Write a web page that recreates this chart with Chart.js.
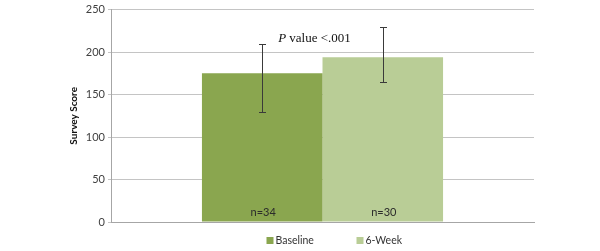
<!DOCTYPE html>
<html>
<head>
<meta charset="utf-8">
<script src="https://cdn.jsdelivr.net/npm/chart.js@4.4.1/dist/chart.umd.min.js"></script>
<style>
  html, body { margin: 0; padding: 0; background: #fff; }
  #wrap { width: 600px; height: 251px; }
</style>
</head>
<body>
<div id="wrap"><canvas id="surveyChart" width="600" height="251"></canvas></div>
<script>
// === DATA ===
const categories = ["Survey"];
const seriesNames = ["Baseline", "6-Week"];
const means = [175, 194];
const errLow = [129, 165];
const errHigh = [210, 229];
const sampleLabels = ["n=34", "n=30"];
const yTicks = [0, 50, 100, 150, 200, 250];
const pValueY = 216;

const barColors = ["#8aa64f", "#b9cd96"];
const sansFont = "Lato, 'DejaVu Sans', sans-serif";

// error bars, n labels, p value note and the legend
const extrasPlugin = {
    id: "extras",
    afterDatasetsDraw(chart) {
        const ctx = chart.ctx;
        const y = chart.scales.y;
        ctx.save();
        seriesNames.forEach((name, i) => {
            const bar = chart.getDatasetMeta(i).data[0];
            const x = Math.round(bar.x) + 0.5;
            const top = Math.round(y.getPixelForValue(errHigh[i])) + 0.5;
            const bottom = Math.round(y.getPixelForValue(errLow[i])) + 0.5;
            ctx.strokeStyle = "#3a3a3a";
            ctx.lineWidth = 1;
            ctx.beginPath();
            ctx.moveTo(x, top);
            ctx.lineTo(x, bottom);
            ctx.moveTo(x - 3.5, top);
            ctx.lineTo(x + 3.5, top);
            ctx.moveTo(x - 3.5, bottom);
            ctx.lineTo(x + 3.5, bottom);
            ctx.stroke();

            ctx.fillStyle = "#2b2b2b";
            ctx.font = "11px " + sansFont;
            ctx.textAlign = "center";
            ctx.textBaseline = "middle";
            ctx.fillText(sampleLabels[i], bar.x + 1, bar.base - 9);
        });

        // p value text, between the two bars
        const b0 = chart.getDatasetMeta(0).data[0];
        const b1 = chart.getDatasetMeta(1).data[0];
        const cx = (b0.x + b1.x) / 2 - 8;
        const py = y.getPixelForValue(pValueY);
        const serif = "13px 'Liberation Serif', serif";
        ctx.fillStyle = "#111";
        ctx.textBaseline = "middle";
        ctx.textAlign = "left";
        ctx.font = "italic " + serif;
        const pw = ctx.measureText("P").width;
        ctx.font = serif;
        const rest = " value <.001";
        const rw = ctx.measureText(rest).width;
        const startX = cx - (pw + rw) / 2;
        ctx.font = "italic " + serif;
        ctx.fillText("P", startX, py);
        ctx.font = serif;
        ctx.fillText(rest, startX + pw, py);

        // legend below the plot
        const ly = chart.chartArea.bottom + 18;
        let lx = (chart.chartArea.left + chart.chartArea.right) / 2 - 56;
        ctx.font = "10.5px " + sansFont;
        seriesNames.forEach((name, i) => {
            ctx.fillStyle = barColors[i];
            ctx.fillRect(lx, ly - 3, 7, 7);
            ctx.fillStyle = "#333";
            ctx.fillText(name, lx + 9, ly + 0.5);
            lx += 90;
        });
        ctx.restore();
    }
};

function createChart() {
    const ctx = document.getElementById("surveyChart").getContext("2d");
    new Chart(ctx, {
        type: "bar",
        data: {
            labels: categories,
            datasets: seriesNames.map((name, i) => ({
                label: name,
                data: [means[i]],
                backgroundColor: barColors[i],
                borderWidth: 0,
                categoryPercentage: 0.57,
                barPercentage: 1
            }))
        },
        options: {
            responsive: false,
            animation: false,
            layout: { padding: { left: 68, right: 66, top: 8, bottom: 29 } },
            plugins: {
                tooltip: { enabled: false },
                legend: { display: false }
            },
            scales: {
                x: {
                    ticks: { display: false },
                    grid: { display: false },
                    border: { color: "#a6a6a6" },
                    afterFit(scale) {
                        scale.height = 0;
                    }
                },
                y: {
                    min: 0,
                    max: 250,
                    afterBuildTicks(scale) {
                        scale.ticks = yTicks.map(v => ({ value: v }));
                    },
                    afterFit(scale) {
                        scale.width = 43;
                    },
                    ticks: {
                        color: "#404040",
                        padding: 3,
                        font: { family: sansFont, size: 11 }
                    },
                    grid: {
                        color: "#c4c4c4",
                        tickLength: 3,
                        drawTicks: true
                    },
                    border: { color: "#a6a6a6" },
                    title: {
                        display: true,
                        text: "Survey Score",
                        color: "#111",
                        padding: { top: 0, bottom: 2 },
                        font: { family: sansFont, size: 10, weight: "bold" }
                    }
                }
            }
        },
        plugins: [extrasPlugin]
    });
}

document.addEventListener("DOMContentLoaded", createChart);
</script>
</body>
</html>
